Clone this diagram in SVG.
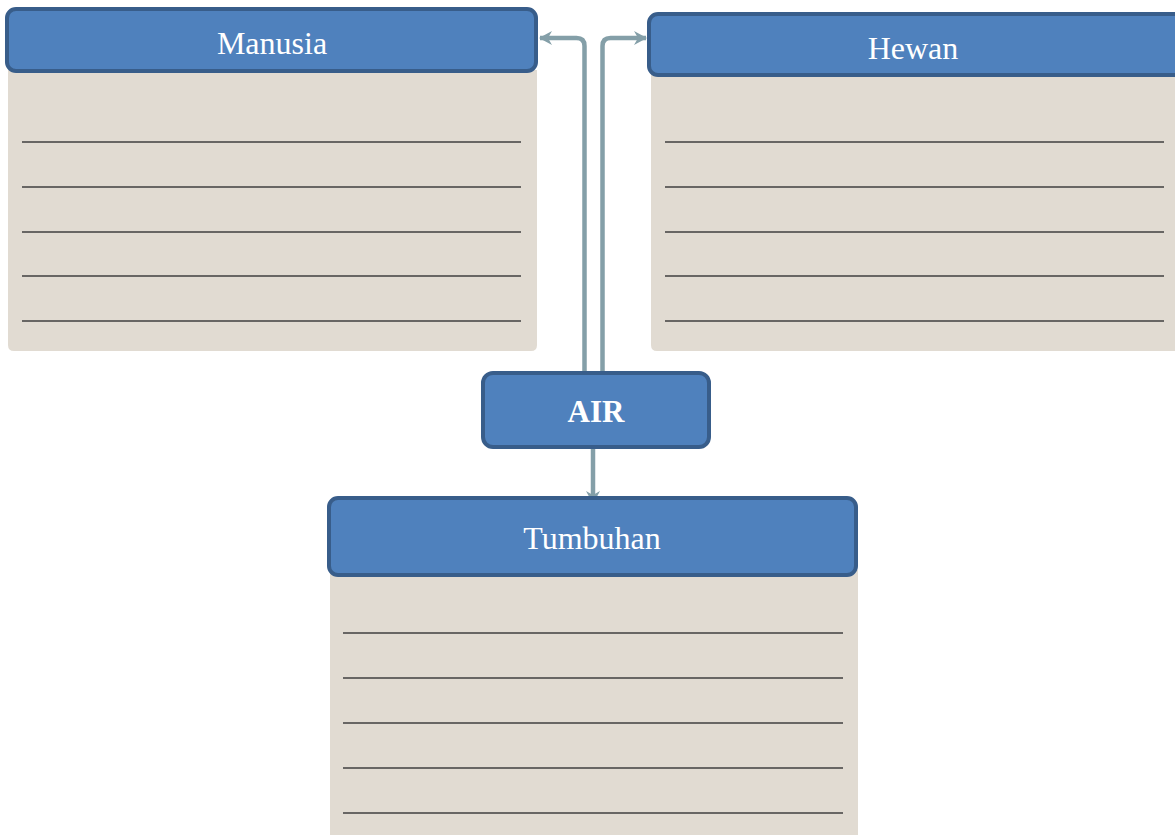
<svg xmlns="http://www.w3.org/2000/svg" width="1175" height="835" viewBox="0 0 1175 835">
<style>
.hdr{fill:#4f81bd;stroke:#385d8a;stroke-width:4}
.body{fill:#e1dbd2}
.ln{stroke:#3f3f3f;stroke-width:1.6}
.t{font-family:"Liberation Serif",serif;font-size:32px;fill:#ffffff;text-anchor:middle}
.conn{fill:none;stroke:#849fa8;stroke-width:4.5}
</style>
<defs>
<marker id="ah" markerWidth="14" markerHeight="16" refX="12" refY="8" orient="auto" markerUnits="userSpaceOnUse">
<path d="M0,1 L13,8 L0,15 L4,8 Z" fill="#849fa8"/>
</marker>
</defs>
<g id="connectors">
<path class="conn" d="M584.5,372 V46 Q584.5,38 576.5,38 H540" marker-end="url(#ah)"/>
<path class="conn" d="M602.5,372 V46 Q602.5,38 610.5,38 H646" marker-end="url(#ah)"/>
<path class="conn" d="M593,449 V503" marker-end="url(#ah)"/>
</g>
<g id="manusia">
<path class="body" d="M8,70 H537 V345 Q537,351 531,351 H14 Q8,351 8,345 Z"/>
<rect class="hdr" x="7" y="9" width="529" height="62" rx="9"/>
<text class="t" x="272" y="54">Manusia</text>
<g class="ln"><line x1="22" y1="142" x2="521" y2="142"/><line x1="22" y1="187" x2="521" y2="187"/><line x1="22" y1="232" x2="521" y2="232"/><line x1="22" y1="276" x2="521" y2="276"/><line x1="22" y1="321" x2="521" y2="321"/></g>
</g>
<g id="hewan">
<path class="body" d="M651,74 H1175 V351 H657 Q651,351 651,345 Z"/>
<rect class="hdr" x="649" y="14" width="535" height="61" rx="9"/>
<text class="t" x="913" y="59">Hewan</text>
<g class="ln"><line x1="665" y1="142" x2="1164" y2="142"/><line x1="665" y1="187" x2="1164" y2="187"/><line x1="665" y1="232" x2="1164" y2="232"/><line x1="665" y1="276" x2="1164" y2="276"/><line x1="665" y1="321" x2="1164" y2="321"/></g>
</g>
<g id="air">
<rect class="hdr" x="483" y="373" width="226" height="74" rx="10"/>
<text class="t" x="596" y="422" font-weight="bold" style="font-size:31px">AIR</text>
</g>
<g id="tumbuhan">
<rect class="body" x="330" y="570" width="528" height="265"/>
<rect class="hdr" x="329" y="498" width="527" height="77" rx="9"/>
<text class="t" x="592" y="549">Tumbuhan</text>
<g class="ln"><line x1="343" y1="633" x2="843" y2="633"/><line x1="343" y1="678" x2="843" y2="678"/><line x1="343" y1="723" x2="843" y2="723"/><line x1="343" y1="768" x2="843" y2="768"/><line x1="343" y1="813" x2="843" y2="813"/></g>
</g>
</svg>
